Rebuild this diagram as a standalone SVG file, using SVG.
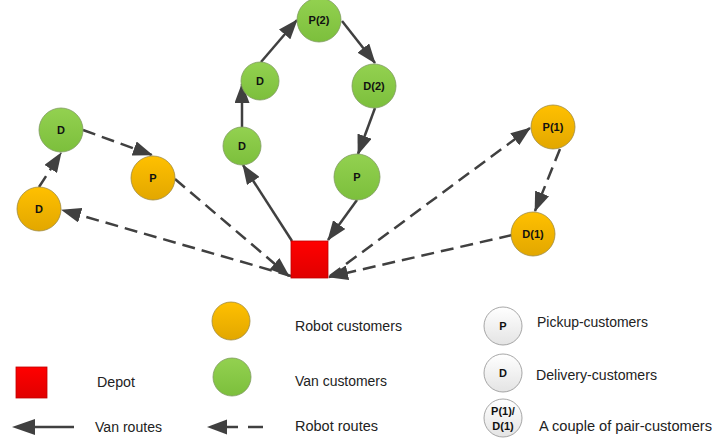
<svg xmlns="http://www.w3.org/2000/svg" width="713" height="443" viewBox="0 0 713 443">
<style>
.van{stroke:#404040;stroke-width:2.5;fill:none;marker-end:url(#ah)}
.rob{stroke:#404040;stroke-width:2.5;fill:none;stroke-dasharray:13 7;marker-end:url(#ah)}
.or{fill:url(#gOr);stroke:#a08a40;stroke-width:0.8}
.gr{fill:url(#gGr);stroke:#7f9a60;stroke-width:0.8}
.wh{fill:url(#gWh);stroke:#909090;stroke-width:0.8}
.nl{font-family:"Liberation Sans",Arial,sans-serif;font-weight:bold;font-size:11px;fill:#111;text-anchor:middle}
.lg{font-family:"Liberation Sans",Arial,sans-serif;font-size:14px;fill:#222}
</style>
<defs>
<linearGradient id="gOr" x1="0" y1="0" x2="0" y2="1"><stop offset="0" stop-color="#FFC000"/><stop offset="1" stop-color="#E2A700"/></linearGradient>
<linearGradient id="gGr" x1="0" y1="0" x2="0" y2="1"><stop offset="0" stop-color="#93D150"/><stop offset="1" stop-color="#7CBF3C"/></linearGradient>
<linearGradient id="gWh" x1="0" y1="0" x2="0" y2="1"><stop offset="0" stop-color="#FFFFFF"/><stop offset="1" stop-color="#E4E4E4"/></linearGradient>
<linearGradient id="gRd" x1="0" y1="0" x2="0" y2="1"><stop offset="0" stop-color="#FF0000"/><stop offset="1" stop-color="#E00000"/></linearGradient>
<marker id="ah" markerUnits="userSpaceOnUse" markerWidth="20" markerHeight="15" refX="19" refY="7.5" orient="auto"><path d="M0,0 L20,7.5 L0,15 z" fill="#404040"/></marker>
</defs>
<rect width="713" height="443" fill="#fff"/>
<g id="connectors">
<line class="van" x1="292" y1="241" x2="243" y2="165"/>
<line class="van" x1="242" y1="127" x2="242" y2="84"/>
<line class="van" x1="261" y1="62" x2="297" y2="20"/>
<line class="van" x1="342" y1="21" x2="375" y2="63"/>
<line class="van" x1="375" y1="108" x2="358" y2="154"/>
<line class="van" x1="357" y1="200" x2="328" y2="240"/>
<line class="rob" x1="291" y1="276" x2="62" y2="210"/>
<line class="rob" x1="39" y1="187" x2="61" y2="153"/>
<line class="rob" x1="83" y1="130" x2="152" y2="155"/>
<line class="rob" x1="175" y1="179" x2="289" y2="276"/>
<line class="rob" x1="330" y1="276" x2="530" y2="128"/>
<line class="rob" x1="560" y1="149" x2="535" y2="211"/>
<line class="rob" x1="512" y1="235" x2="329" y2="277"/>
</g>
<g id="depot"><rect x="291" y="241" width="37" height="37" fill="url(#gRd)" stroke="#c00000" stroke-width="0.8"/></g>
<g id="n_gD1"><circle class="gr" cx="61" cy="130" r="22"/><text class="nl" x="61" y="134">D</text></g>
<g id="n_oD1"><circle class="or" cx="39" cy="209" r="22"/><text class="nl" x="39" y="213">D</text></g>
<g id="n_oP1"><circle class="or" cx="153" cy="178" r="22"/><text class="nl" x="153" y="182">P</text></g>
<g id="n_gD2"><circle class="gr" cx="242" cy="146" r="19"/><text class="nl" x="242" y="150">D</text></g>
<g id="n_gD3"><circle class="gr" cx="260" cy="81" r="19"/><text class="nl" x="260" y="85">D</text></g>
<g id="n_P2"><circle class="gr" cx="319" cy="20" r="22"/><text class="nl" x="319" y="24">P(2)</text></g>
<g id="n_D2"><circle class="gr" cx="374" cy="86" r="22"/><text class="nl" x="374" y="90">D(2)</text></g>
<g id="n_gP"><circle class="gr" cx="357" cy="177" r="23"/><text class="nl" x="357" y="181">P</text></g>
<g id="n_P1"><circle class="or" cx="553" cy="127" r="22"/><text class="nl" x="553" y="131">P(1)</text></g>
<g id="n_D1"><circle class="or" cx="533" cy="234" r="22"/><text class="nl" x="533" y="238">D(1)</text></g>
<g id="legend">
<circle class="or" cx="231" cy="321" r="19"/>
<text class="lg" x="295" y="331" textLength="107" lengthAdjust="spacingAndGlyphs">Robot customers</text>
<circle class="gr" cx="232" cy="377" r="19"/>
<text class="lg" x="295" y="386" textLength="92" lengthAdjust="spacingAndGlyphs">Van customers</text>
<rect x="16" y="367" width="31" height="31" fill="url(#gRd)" stroke="#c00000" stroke-width="0.8"/>
<text class="lg" x="97" y="387" textLength="38" lengthAdjust="spacingAndGlyphs">Depot</text>
<line x1="74" y1="427" x2="32" y2="427" stroke="#404040" stroke-width="2.5"/>
<path d="M12,427 L35,419 L35,435 z" fill="#404040"/>
<text class="lg" x="95" y="432" textLength="67" lengthAdjust="spacingAndGlyphs">Van routes</text>
<line x1="224" y1="427" x2="238" y2="427" stroke="#404040" stroke-width="2.5"/>
<line x1="248" y1="427" x2="263" y2="427" stroke="#404040" stroke-width="2.5"/>
<path d="M207,427 L227,419.5 L227,434.5 z" fill="#404040"/>
<text class="lg" x="295" y="431" textLength="83" lengthAdjust="spacingAndGlyphs">Robot routes</text>
<circle class="wh" cx="503" cy="326" r="19"/><text class="nl" x="503" y="330">P</text>
<text class="lg" x="537" y="327" textLength="111" lengthAdjust="spacingAndGlyphs">Pickup-customers</text>
<circle class="wh" cx="503" cy="373" r="19"/><text class="nl" x="503" y="377">D</text>
<text class="lg" x="536" y="380" textLength="121" lengthAdjust="spacingAndGlyphs">Delivery-customers</text>
<circle class="wh" cx="503" cy="418" r="19"/><text class="nl" x="503" y="415">P(1)/</text><text class="nl" x="503" y="430">D(1)</text>
<text class="lg" x="539" y="431" textLength="173" lengthAdjust="spacingAndGlyphs">A couple of pair-customers</text>
</g>
</svg>
